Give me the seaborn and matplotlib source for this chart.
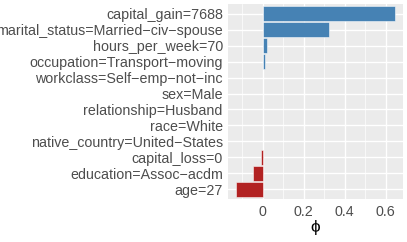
import matplotlib
matplotlib.use("Agg")
import matplotlib.pyplot as plt
import seaborn as sns
import pandas as pd
import numpy as np
from matplotlib.ticker import MultipleLocator

features = [
    "capital_gain=7688",
    "marital_status=Married\u2212civ\u2212spouse",
    "hours_per_week=70",
    "occupation=Transport\u2212moving",
    "workclass=Self\u2212emp\u2212not\u2212inc",
    "sex=Male",
    "relationship=Husband",
    "race=White",
    "native_country=United\u2212States",
    "capital_loss=0",
    "education=Assoc\u2212acdm",
    "age=27",
]
phi = [0.644, 0.323, 0.023, 0.011, 0.002, 0.001, 0.001, 0.0005, 0.0005, -0.011, -0.050, -0.130]
x_ticks = [0, 0.2, 0.4, 0.6]
x_tick_labels = ["0", "0.2", "0.4", "0.6"]

df = pd.DataFrame({"feature": features, "phi": phi})
df["sign"] = np.where(df["phi"] >= 0, "pos", "neg")

sns.set_theme(style="darkgrid")
plt.rcParams["font.family"] = ["Liberation Sans", "DejaVu Sans"]

fig = plt.figure(figsize=(4.07, 2.42), dpi=100)
ax = fig.add_axes([0.561, 0.1777, 0.4285, 0.8058])
ax.set_facecolor("#EBEBEB")

sns.barplot(data=df, y="feature", x="phi", hue="sign", order=features,
            palette={"pos": "#4682B4", "neg": "#B22222"}, dodge=False,
            width=0.9, edgecolor=(1, 1, 1, 0.6), linewidth=0.6,
            legend=False, ax=ax, saturation=1)

ax.set_xlim(-0.168, 0.683)
ax.set_ylim(len(features) - 0.4, -0.6)
ax.set_xticks(x_ticks)
ax.set_xticklabels(x_tick_labels)
ax.xaxis.set_minor_locator(MultipleLocator(0.1))
ax.grid(True, which="major", color="white", linewidth=1.0)
ax.grid(True, which="minor", axis="x", color="white", linewidth=0.5)
ax.set_axisbelow(True)
for s in ax.spines.values():
    s.set_visible(False)
ax.tick_params(axis="both", which="major", length=2.5, width=0.6, color="#333333",
               labelcolor="#4D4D4D", labelsize=10.3, pad=1.5)
ax.tick_params(axis="x", which="minor", length=0)
ax.set_ylabel("")
ax.set_xlabel("\u03d5", fontsize=12.5, color="black", labelpad=1)

fig.savefig("out.png", dpi=100)
